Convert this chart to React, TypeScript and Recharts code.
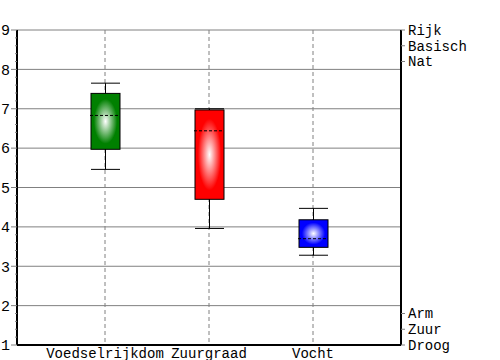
import React from "react";
import {
  Bar,
  CartesianGrid,
  ComposedChart,
  Line,
  XAxis,
  YAxis,
} from "recharts";

const categories = ["Voedselrijkdom", "Zuurgraad", "Vocht"];
const minValues = [5.46, 3.96, 3.28];
const q1Values = [5.97, 4.7, 3.48];
const medianValues = [6.83, 6.44, 3.7];
const q3Values = [7.39, 6.97, 4.18];
const maxValues = [7.65, 7.0, 4.47];
const boxColors = ["#008000", "#ff0000", "#0000ff"];

const majorTicks = [1, 2, 3, 4, 5, 6, 7, 8, 9];
const minorTicks = Array.from({ length: 41 }, (_, i) => +(1 + i * 0.2).toFixed(1));
const rightTickValues = [9, 8.6, 8.2, 1.8, 1.4, 1];
const rightTickLabels = ["Rijk", "Basisch", "Nat", "Arm", "Zuur", "Droog"];

const data = categories.map((name, i) => ({
  name,
  range: [minValues[i], maxValues[i]],
  min: minValues[i],
  q1: q1Values[i],
  median: medianValues[i],
  q3: q3Values[i],
  max: maxValues[i],
}));

const FONT = "'Liberation Mono', 'DejaVu Sans Mono', monospace";
const GRID = "#808080";

// scale may be a plain d3 function or a wrapper with map()
const applyScale = (s: any, v: number) =>
  typeof s === "function" ? s(v) : typeof s?.map === "function" ? s.map(v) : NaN;

const rightLabel = (v: number) => {
  const i = rightTickValues.findIndex((t) => Math.abs(t - v) < 1e-6);
  return i >= 0 ? rightTickLabels[i] : "";
};

// bar spans min..max, the rest is placed inside it
const BoxShape = (props: any) => {
  const { x, y, width, height, payload, index } = props;
  const top = Math.min(y, y + height);
  const h = Math.abs(height);
  const { min, q1, median, q3, max } = payload;
  const toY = (v: number) => top + ((max - v) / (max - min)) * h;
  const cx = x + width / 2;
  return (
    <g>
      <line x1={cx} x2={cx} y1={toY(max)} y2={toY(min)} stroke="#000" />
      <line x1={x} x2={x + width} y1={toY(max)} y2={toY(max)} stroke="#000" />
      <line x1={x} x2={x + width} y1={toY(min)} y2={toY(min)} stroke="#000" />
      <rect
        x={x}
        y={toY(q3)}
        width={width}
        height={toY(q1) - toY(q3)}
        fill={`url(#boxGrad${index})`}
        stroke="#000"
      />
      <line
        x1={x - 1}
        x2={x + width}
        y1={toY(median)}
        y2={toY(median)}
        stroke="#000"
        strokeDasharray="3 2"
      />
    </g>
  );
};

const LeftTick = (props: any) => {
  const { x, y, payload } = props;
  const axisX = x + 8;
  const v = payload.value;
  const major = Math.abs(v - Math.round(v)) < 1e-6;
  return (
    <g>
      <line x1={axisX - (major ? 6 : 2)} x2={axisX} y1={y} y2={y} stroke={GRID} />
      {major && (
        <text x={x + 1} y={y} dy="0.35em" textAnchor="end" fill="#000" fontSize={15} fontFamily={FONT}>
          {Math.round(v)}
        </text>
      )}
    </g>
  );
};

export default function App() {
  return (
    <div style={{ position: "absolute", left: 0, top: 0, background: "#fff" }}>
      <ComposedChart
        width={500}
        height={360}
        data={data}
        margin={{ top: 30, right: 0, bottom: 0, left: 0 }}
        style={{ fontFamily: FONT }}
      >
        <defs>
          {boxColors.map((c, i) => (
            <radialGradient key={i} id={`boxGrad${i}`} cx="50%" cy="50%" r="50%">
              <stop offset="0%" stopColor="#ffffff" />
              <stop offset="80%" stopColor={c} />
            </radialGradient>
          ))}
        </defs>
        <CartesianGrid
          vertical={false}
          stroke={GRID}
          horizontalValues={majorTicks}
          horizontalCoordinatesGenerator={({ yAxis }: any) =>
            majorTicks.map((v) => applyScale(yAxis?.scale, v)).filter((c) => !isNaN(c))
          }
        />
        <CartesianGrid horizontal={false} stroke={GRID} strokeDasharray="4 3" />
        <XAxis
          dataKey="name"
          type="category"
          height={15}
          padding={{ left: 36, right: 36 }}
          interval={0}
          tickLine={false}
          tickSize={0}
          tickMargin={3}
          axisLine={{ stroke: "#000", strokeWidth: 2 }}
          tick={{ fill: "#000", fontSize: 14, fontFamily: FONT }}
        />
        <XAxis
          xAxisId="top"
          dataKey="name"
          orientation="top"
          height={0}
          tick={false}
          tickLine={false}
          axisLine={{ stroke: "#000", strokeWidth: 2 }}
        />
        <YAxis
          type="number"
          domain={[1, 9]}
          ticks={minorTicks}
          interval={0}
          width={17}
          tickSize={6}
          tickMargin={2}
          tickLine={false}
          axisLine={{ stroke: "#000", strokeWidth: 2 }}
          tick={<LeftTick />}
        />
        <YAxis
          yAxisId="right"
          orientation="right"
          type="number"
          domain={[1, 9]}
          allowDataOverflow
          ticks={rightTickValues}
          interval={0}
          width={99}
          tickSize={4}
          tickMargin={3}
          tickLine={{ stroke: GRID }}
          axisLine={{ stroke: "#000", strokeWidth: 2 }}
          tickFormatter={rightLabel}
          tick={{ fill: "#000", fontSize: 14, fontFamily: FONT }}
        />
        <Bar
          dataKey="range"
          barSize={29}
          shape={<BoxShape />}
          isAnimationActive={false}
        />
        {/* invisible series so the right axis has something bound to it */}
        <Line
          yAxisId="right"
          dataKey="median"
          stroke="none"
          dot={false}
          activeDot={false}
          isAnimationActive={false}
        />
      </ComposedChart>
    </div>
  );
}
